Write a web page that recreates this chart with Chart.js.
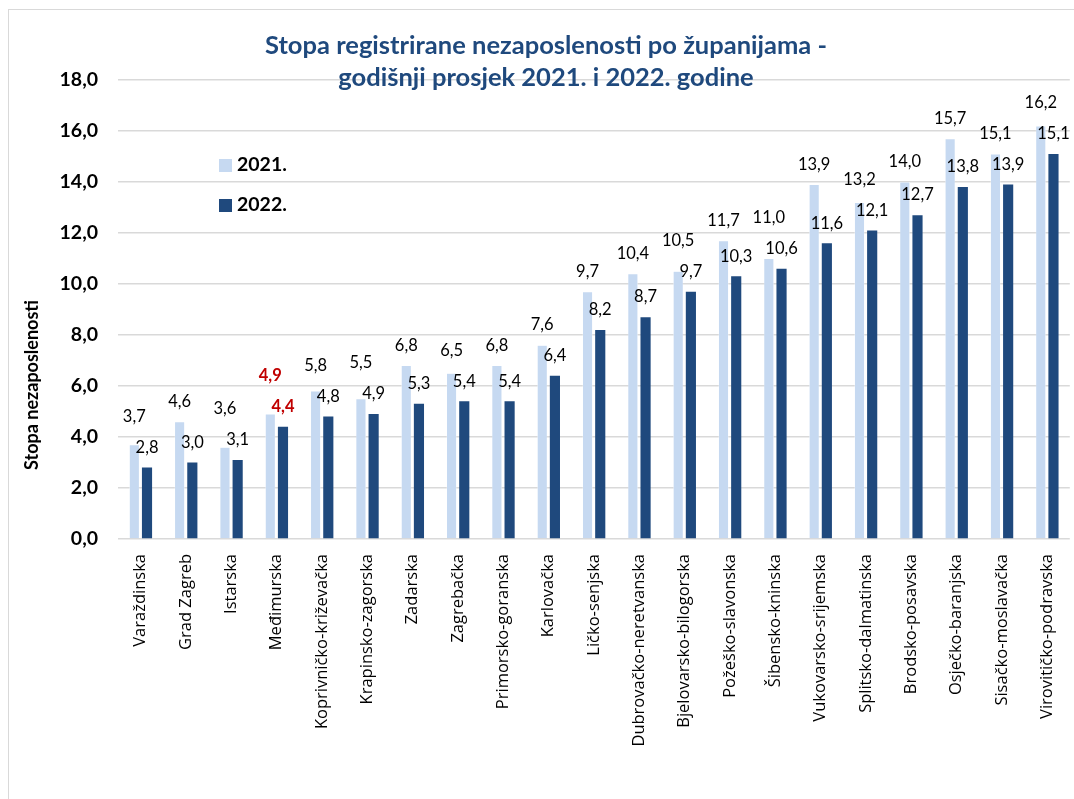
<!DOCTYPE html>
<html>
<head>
<meta charset="utf-8">
<script src="https://cdn.jsdelivr.net/npm/chart.js@4"></script>
<style>
  html, body { margin: 0; padding: 0; background: #fff; }
  #wrap { position: relative; width: 1074px; height: 799px; }
  #frame { position: absolute; left: 8px; top: 9px; width: 1080px; height: 800px; border: 1px solid #D9D9D9; box-sizing: border-box; }
  canvas { position: absolute; left: 0; top: 0; }
</style>
</head>
<body>
<div id="wrap">
  <div id="frame"></div>
  <canvas id="chart" width="1074" height="799"></canvas>
</div>
<script>
// podaci
const zupanije = ["Varaždinska", "Grad Zagreb", "Istarska", "Međimurska", "Koprivničko-križevačka",
  "Krapinsko-zagorska", "Zadarska", "Zagrebačka", "Primorsko-goranska", "Karlovačka",
  "Ličko-senjska", "Dubrovačko-neretvanska", "Bjelovarsko-bilogorska", "Požeško-slavonska",
  "Šibensko-kninska", "Vukovarsko-srijemska", "Splitsko-dalmatinska", "Brodsko-posavska",
  "Osječko-baranjska", "Sisačko-moslavačka", "Virovitičko-podravska"];
const god2021 = [3.7, 4.6, 3.6, 4.9, 5.8, 5.5, 6.8, 6.5, 6.8, 7.6, 9.7, 10.4, 10.5, 11.7, 11.0, 13.9, 13.2, 14.0, 15.7, 15.1, 16.2];
const god2022 = [2.8, 3.0, 3.1, 4.4, 4.8, 4.9, 5.3, 5.4, 5.4, 6.4, 8.2, 8.7, 9.7, 10.3, 10.6, 11.6, 12.1, 12.7, 13.8, 13.9, 15.1];
const yTicks = [0, 2, 4, 6, 8, 10, 12, 14, 16, 18];
const istaknuto = "Međimurska";

const boje = { y2021: "#C6D9F1", y2022: "#1F497D", naslov: "#1F497D" };
const fmt = v => v.toFixed(1).replace(".", ",");

// naslov, os, legenda i oznake vrijednosti
const crtanje = {
  id: "crtanje",
  afterDatasetsDraw(chart) {
    const ctx = chart.ctx;
    ctx.save();
    // oznake iznad stupaca (svjetlija oznaka se podiže da se ne preklapa)
    const m0 = chart.getDatasetMeta(0), m1 = chart.getDatasetMeta(1);
    chart.data.labels.forEach((lab, i) => {
      const red = lab === istaknuto;
      ctx.font = (red ? "bold " : "") + "16.5px Lato";
      ctx.fillStyle = red ? "#C00000" : "#000";
      ctx.textAlign = "center";
      ctx.textBaseline = "middle";
      const b0 = m0.data[i], b1 = m1.data[i];
      const y1 = b1.y - 20;
      const y0 = Math.min(b0.y - 20, y1 - 31);
      ctx.fillText(fmt(god2021[i]), b0.x, y0);
      ctx.fillText(fmt(god2022[i]), b1.x, y1);
    });
    // naslov
    ctx.fillStyle = boje.naslov;
    ctx.font = "bold 25.5px Lato";
    ctx.textAlign = "center";
    ctx.textBaseline = "middle";
    ctx.fillText("Stopa registrirane nezaposlenosti po županijama -", 546, 46);
    ctx.fillText("godišnji prosjek 2021. i 2022. godine", 546, 78);
    // naslov osi
    ctx.save();
    ctx.translate(32, 385);
    ctx.rotate(-Math.PI / 2);
    ctx.fillStyle = "#000";
    ctx.font = "bold 18px Lato";
    ctx.fillText("Stopa nezaposlenosti", 0, 0);
    ctx.restore();
    // legenda
    const leg = [["2021.", boje.y2021, 165], ["2022.", boje.y2022, 205]];
    leg.forEach(([t, c, y]) => {
      ctx.fillStyle = c;
      ctx.fillRect(219, y - 6, 13, 13);
      ctx.fillStyle = "#000";
      ctx.font = "bold 19.5px Lato";
      ctx.textAlign = "left";
      ctx.fillText(t, 237, y);
    });
    ctx.restore();
  }
};

new Chart(document.getElementById("chart"), {
  type: "bar",
  data: {
    labels: zupanije,
    datasets: [
      { label: "2021.", data: god2021, backgroundColor: boje.y2021, borderColor: "#fff", borderWidth: 0.5 },
      { label: "2022.", data: god2022, backgroundColor: boje.y2022 }
    ]
  },
  options: {
    responsive: false,
    animation: false,
    events: [],
    layout: { padding: { left: 0, top: 80, right: 3, bottom: 0 } },
    datasets: { bar: { categoryPercentage: 0.56, barPercentage: 0.8 } },
    plugins: { legend: { display: false }, title: { display: false }, tooltip: { enabled: false } },
    scales: {
      x: {
        grid: { display: false },
        border: { display: false },
        ticks: { color: "#000", font: { family: "Open Sans", size: 16.5 }, minRotation: 90, maxRotation: 90, autoSkip: false, padding: 7 },
        afterFit(s) { s.height = 260; }
      },
      y: {
        min: 0, max: 18,
        afterBuildTicks(s) { s.ticks = yTicks.map(v => ({ value: v })); },
        grid: { color: "#D9D9D9", lineWidth: 1.5, drawTicks: false },
        border: { display: false },
        ticks: { color: "#000", font: { family: "Lato", size: 19.5, weight: "bold" }, padding: 20, callback: v => fmt(v) },
        afterFit(s) { s.width = 118; }
      }
    }
  },
  plugins: [crtanje]
});
</script>
</body>
</html>
